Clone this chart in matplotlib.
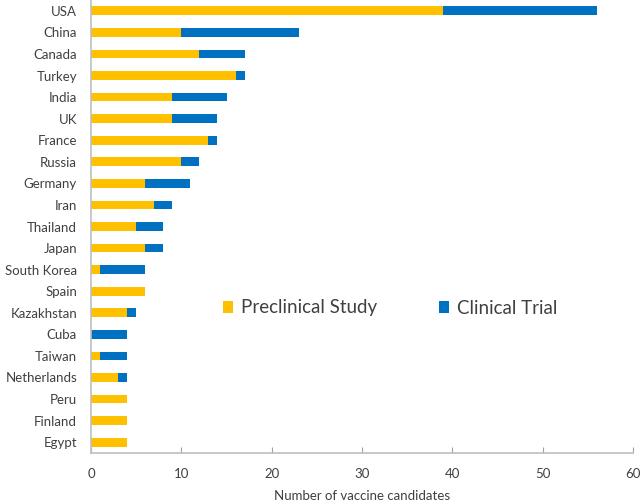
import numpy as np
import matplotlib
matplotlib.use("Agg")
import matplotlib.pyplot as plt

# datos (de abajo hacia arriba)
paises = ["Egypt", "Finland", "Peru", "Netherlands", "Taiwan", "Cuba", "Kazakhstan",
          "Spain", "South Korea", "Japan", "Thailand", "Iran", "Germany", "Russia",
          "France", "UK", "India", "Turkey", "Canada", "China", "USA"]
preclinico = [4, 4, 4, 3, 1, 0, 4, 6, 1, 6, 5, 7, 6, 10, 13, 9, 9, 16, 12, 10, 39]
clinico = [0, 0, 0, 1, 3, 4, 1, 0, 5, 2, 3, 2, 5, 2, 1, 5, 6, 1, 5, 13, 17]
ticks_x = [0, 10, 20, 30, 40, 50, 60]

plt.rcParams['font.family'] = ['Lato', 'DejaVu Sans']

fig = plt.figure(figsize=(6.44, 5.01), dpi=100)
ax = fig.add_axes([91/644, 1-453/501, 542/644, 453/501])

y = np.arange(len(paises))
ax.barh(y, preclinico, height=0.4, color='#FFC000', label='Preclinical Study')
ax.barh(y, clinico, left=preclinico, height=0.4, color='#0070C0', label='Clinical Trial')

ax.set_xlim(0, 60)
ax.set_ylim(-0.5, len(paises) - 0.5)
ax.set_yticks(y)
ax.set_yticklabels(paises, fontsize=9.5, color='#404040')
ax.set_xticks(ticks_x)
ax.set_xticklabels([str(t) for t in ticks_x], fontsize=9.5, color='#404040')
ax.tick_params(axis='y', length=0, pad=10)
ax.tick_params(axis='x', direction='in', length=4, color='#A0A0A0', pad=11)
ax.set_xlabel('Number of vaccine candidates', fontsize=9.5, color='#404040', labelpad=7)

for s in ['top', 'right']:
    ax.spines[s].set_visible(False)
for s in ['left', 'bottom']:
    ax.spines[s].set_color('#BFBFBF')
    ax.spines[s].set_linewidth(1.2)

fig.legend(loc='center', bbox_to_anchor=(390/644, 1-308/501), ncol=2, frameon=False,
           fontsize=13.5, handlelength=0.55, handleheight=0.55, handletextpad=0.4,
           columnspacing=3.3, labelcolor='#404040')

fig.savefig('out.png', dpi=100)
